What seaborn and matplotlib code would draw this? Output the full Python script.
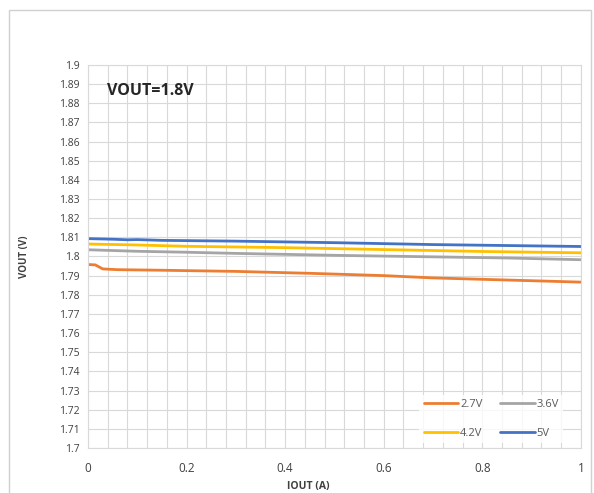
import matplotlib
matplotlib.use("Agg")
import matplotlib.pyplot as plt
import seaborn as sns
import pandas as pd
import numpy as np
from matplotlib.patches import Rectangle
from matplotlib.ticker import MultipleLocator

# Data
x_27 = [0, 0.015, 0.03, 0.06, 0.15, 0.3, 0.45, 0.6, 0.7, 0.85, 1.0]
y_27 = [1.7958, 1.7956, 1.7935, 1.7931, 1.7928, 1.7922, 1.7912, 1.7900, 1.7888, 1.7877, 1.7866]
x_36 = [0, 0.1, 0.2, 0.3, 0.5, 0.7, 0.85, 1.0]
y_36 = [1.8035, 1.8027, 1.8022, 1.8016, 1.8006, 1.7998, 1.7992, 1.7983]
x_42 = [0, 0.1, 0.2, 0.4, 0.6, 0.8, 1.0]
y_42 = [1.8065, 1.8060, 1.8053, 1.8046, 1.8036, 1.8026, 1.8019]
x_5 = [0, 0.05, 0.08, 0.1, 0.15, 0.3, 0.5, 0.7, 0.85, 1.0]
y_5 = [1.8093, 1.8090, 1.8087, 1.8088, 1.8084, 1.8080, 1.8072, 1.8062, 1.8057, 1.8052]
series_names = ["2.7V", "3.6V", "4.2V", "5V"]
colors = ["#ED7D31", "#A5A5A5", "#FFC000", "#4472C4"]
x_ticks = [0, 0.2, 0.4, 0.6, 0.8, 1]
x_tick_labels = ["0", "0.2", "0.4", "0.6", "0.8", "1"]

frames = []
for name, xs, ys in zip(series_names, [x_27, x_36, x_42, x_5], [y_27, y_36, y_42, y_5]):
    frames.append(pd.DataFrame({"IOUT": xs, "VOUT": ys, "Vin": name}))
df = pd.concat(frames, ignore_index=True)

sns.set_theme(style="white")
plt.rcParams["font.family"] = ["Open Sans", "DejaVu Sans"]

fig = plt.figure(figsize=(5.94, 4.93), dpi=100)
ax = fig.add_axes([0.148, 0.0913, 0.830, 0.777])

sns.lineplot(data=df, x="IOUT", y="VOUT", hue="Vin", hue_order=series_names,
             palette=colors, estimator=None, sort=False, linewidth=2.0, ax=ax)

ax.set_xlim(0, 1)
ax.set_ylim(1.7, 1.9)
ax.xaxis.set_minor_locator(MultipleLocator(0.04))
ax.set_xticks(x_ticks)
ax.set_xticklabels(x_tick_labels)
yt = np.round(np.arange(1.70, 1.9001, 0.01), 2)
ax.set_yticks(yt)
ax.set_yticklabels([f"{v:g}" for v in yt])
ax.grid(True, which="both", color="#D9D9D9", linewidth=0.8)
ax.set_axisbelow(True)
for s in ax.spines.values():
    s.set_color("#D9D9D9")
    s.set_linewidth(0.8)
ax.tick_params(axis="x", which="both", length=0, pad=10, labelsize=8.5, labelcolor="#404040")
ax.tick_params(axis="y", which="both", length=0, pad=6, labelsize=7.5, labelcolor="#404040")

ax.set_xlabel("IOUT (A)", fontsize=7.5, fontweight="bold", color="#404040", labelpad=2)
ax.xaxis.set_label_coords(0.447, -0.087)
ax.set_ylabel("VOUT (V)", fontsize=7, fontweight="bold", color="#404040")
ax.yaxis.set_label_coords(-0.118, 0.5)

ax.text(0.038, 0.932, "VOUT=1.8V", transform=ax.transAxes, fontsize=11.5,
        fontweight="bold", color="#262626", ha="left", va="center")

handles, labels = ax.get_legend_handles_labels()
order = [0, 2, 1, 3]
leg = ax.legend([handles[i] for i in order], [labels[i] for i in order],
                ncol=2, loc="lower right", bbox_to_anchor=(0.975, -0.002), frameon=True,
                fontsize=8, handlelength=3.1, handletextpad=0.15, columnspacing=1.6,
                labelspacing=1.6, borderpad=0.4, facecolor="white", edgecolor="none")
for t in leg.get_texts():
    t.set_color("#595959")
for h in leg.get_lines():
    h.set_linewidth(2.0)

fig.patches.append(Rectangle((9 / 594, -0.01), 582 / 594, 1 - 10 / 493 + 0.01,
                             transform=fig.transFigure, fill=False,
                             edgecolor="#D0D0D0", linewidth=1.0))

fig.savefig("out.png", dpi=100)
